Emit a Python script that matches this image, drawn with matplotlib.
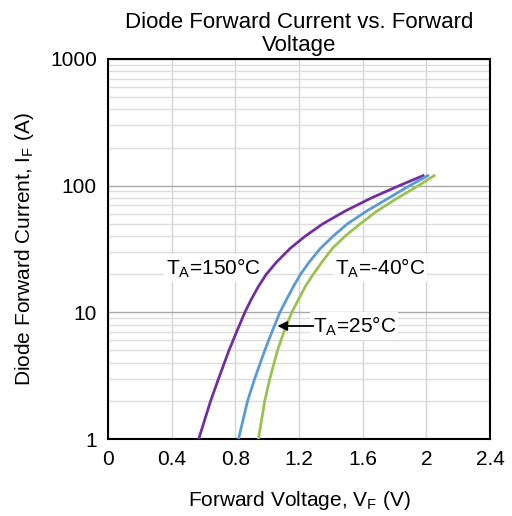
import matplotlib
matplotlib.use("Agg")
import matplotlib.pyplot as plt

plt.rcParams['font.family'] = ['Liberation Sans', 'DejaVu Sans']
plt.rcParams['mathtext.fontset'] = 'custom'
plt.rcParams['mathtext.rm'] = 'Liberation Sans'

# forward current points (A)
current = [1, 2, 3, 5, 7, 10, 12.5, 16, 20, 25, 32, 40, 50, 63, 80, 100, 120]

# forward voltage (V) at those currents for each temperature
vf_150 = [0.57, 0.645, 0.695, 0.76, 0.808, 0.86, 0.898, 0.945, 0.995, 1.06,
          1.145, 1.24, 1.35, 1.49, 1.655, 1.83, 1.98]
vf_25 = [0.82, 0.877, 0.922, 0.985, 1.03, 1.08, 1.12, 1.165, 1.21, 1.265,
         1.335, 1.415, 1.505, 1.625, 1.765, 1.895, 2.01]
vf_m40 = [0.945, 0.985, 1.017, 1.065, 1.105, 1.155, 1.195, 1.24, 1.29, 1.345,
          1.41, 1.49, 1.585, 1.69, 1.82, 1.95, 2.05]

x_ticks = [0, 0.4, 0.8, 1.2, 1.6, 2.0, 2.4]
x_tick_labels = ['0', '0.4', '0.8', '1.2', '1.6', '2', '2.4']
y_ticks = [1, 10, 100, 1000]
y_tick_labels = ['1', '10', '100', '1000']

fig = plt.figure(figsize=(5.12, 5.16), dpi=100)
ax = fig.add_axes([0.2109, 0.1492, 0.7461, 0.7365])

ax.set_yscale('log')
ax.set_xlim(0, 2.4)
ax.set_ylim(1, 1000)

# grid: light vertical lines, log minor lines, darker decade lines
ax.grid(True, which='minor', axis='y', color='#dcdcdc', linewidth=1.0)
ax.grid(True, which='major', axis='y', color='#a8a8a8', linewidth=1.0)
ax.grid(True, which='major', axis='x', color='#d4d4d4', linewidth=1.0)
ax.set_axisbelow(True)

ax.plot(vf_150, current, color='#7030A0', linewidth=2.0, zorder=4)
ax.plot(vf_25, current, color='#5B9BD5', linewidth=2.0, zorder=4)
ax.plot(vf_m40, current, color='#9BC250', linewidth=2.0, zorder=4)

ax.set_xticks(x_ticks)
ax.set_xticklabels(x_tick_labels)
ax.set_yticks(y_ticks)
ax.set_yticklabels(y_tick_labels)
ax.tick_params(axis='both', which='both', length=0, labelsize=15, pad=8)

for spine in ax.spines.values():
    spine.set_color('black')
    spine.set_linewidth(1.5)

ax.set_title('Diode Forward Current vs. Forward\nVoltage', fontsize=16,
             linespacing=1.1, pad=6)
ax.set_xlabel(r'Forward Voltage, V$_\mathregular{F}$ (V)', fontsize=15, labelpad=14)
ax.set_ylabel(r'Diode Forward Current, I$_\mathregular{F}$ (A)', fontsize=15, labelpad=10)

box = dict(boxstyle='square,pad=0.1', facecolor='white', edgecolor='none')
ax.text(0.663, 22.4, r'T$_\mathregular{A}$=150°C', fontsize=15,
        ha='center', va='center', bbox=box, zorder=3)
ax.text(1.71, 22.4, r'T$_\mathregular{A}$=-40°C', fontsize=15,
        ha='center', va='center', bbox=box, zorder=3)
ax.text(1.285, 7.8, r'T$_\mathregular{A}$=25°C', fontsize=15,
        ha='left', va='center', bbox=box, zorder=3)
ax.annotate('', xy=(1.065, 7.8), xytext=(1.29, 7.8),
            arrowprops=dict(arrowstyle='-|>', color='black', lw=1.3,
                            mutation_scale=14, shrinkA=0, shrinkB=0),
            zorder=5)

fig.savefig('out.png', dpi=100)
